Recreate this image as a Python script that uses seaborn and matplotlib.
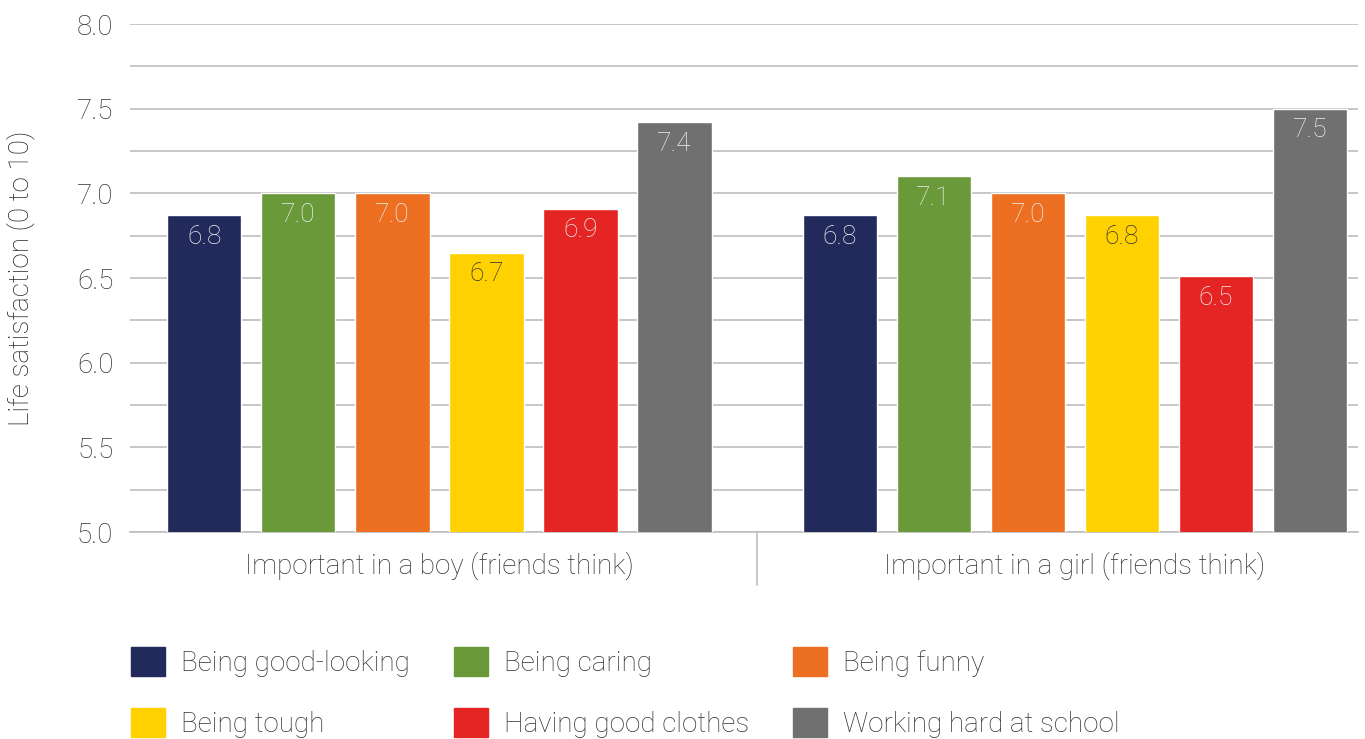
import matplotlib.pyplot as plt
import pandas as pd
import seaborn as sns
from matplotlib.ticker import MultipleLocator

groups = ["Important in a boy (friends think)", "Important in a girl (friends think)"]
traits = [
    "Being good-looking",
    "Being caring",
    "Being funny",
    "Being tough",
    "Having good clothes",
    "Working hard at school",
]
boy_values = [6.87, 7.00, 7.00, 6.65, 6.91, 7.42]
girl_values = [6.87, 7.10, 7.00, 6.87, 6.51, 7.50]
boy_labels = ["6.8", "7.0", "7.0", "6.7", "6.9", "7.4"]
girl_labels = ["6.8", "7.1", "7.0", "6.8", "6.5", "7.5"]
colors = ["#212a5a", "#6a993a", "#ec6f22", "#ffd100", "#e52424", "#707070"]

df = pd.DataFrame({
    "group": [groups[0]] * 6 + [groups[1]] * 6,
    "trait": traits * 2,
    "value": boy_values + girl_values,
})

sns.set_style("white")
plt.rcParams["font.family"] = ["Roboto", "DejaVu Sans"]
plt.rcParams["font.weight"] = "light"
plt.rcParams["axes.labelweight"] = "light"

fig = plt.figure(figsize=(13.65, 7.39), dpi=100)
ax = fig.add_axes([0.0952, 0.280, 0.8998, 0.6875])

sns.barplot(data=df, x="group", y="value", hue="trait", hue_order=traits,
            palette=colors, width=0.888, gap=0.21, saturation=1, ax=ax,
            legend=False, zorder=3)

ax.set_ylim(5.0, 8.0)
ax.set_xlim(-0.487, 1.446)
ax.yaxis.set_major_locator(MultipleLocator(0.5))
ax.yaxis.set_minor_locator(MultipleLocator(0.25))
ax.grid(axis="y", which="both", color="#bdbdbd", lw=1.2, zorder=0)
ax.set_yticklabels([f"{t:.1f}" for t in ax.get_yticks()])
ax.tick_params(axis="y", which="both", length=0, labelsize=20, labelcolor="#333333", pad=12)
ax.tick_params(axis="x", length=0, labelsize=20, labelcolor="#333333", pad=14)
for s in ["left", "right", "top"]:
    ax.spines[s].set_visible(False)
ax.spines["bottom"].set_color("#bdbdbd")
ax.spines["bottom"].set_linewidth(1.2)
ax.set_xlabel("")
ax.set_ylabel("Life satisfaction (0 to 10)", fontsize=20, color="#222222",
              fontweight="light", labelpad=30)

# separator between groups
ax.plot([0.5, 0.5], [0, -0.105], transform=ax.get_xaxis_transform(),
        color="#bdbdbd", lw=1.2, clip_on=False)

# value labels inside the bars
labels = boy_labels + girl_labels
bars = sorted(ax.patches, key=lambda p: p.get_x())
for bar, lab in zip(bars, labels):
    dark = bar.get_facecolor()[:3] == tuple(int(colors[3][i:i + 2], 16) / 255 for i in (1, 3, 5))
    ax.annotate(lab, (bar.get_x() + bar.get_width() / 2, bar.get_height()),
                xytext=(0, -7), textcoords="offset points", ha="center", va="top",
                fontsize=19, color="#333333" if dark else "#eeeeee", zorder=4)

handles = [plt.Rectangle((0, 0), 1, 1, color=c) for c in colors]
order = [0, 3, 1, 4, 2, 5]
fig.legend([handles[i] for i in order], [traits[i] for i in order],
           ncol=3, loc="upper left", bbox_to_anchor=(0.096, 0.124),
           frameon=False, fontsize=20, handlelength=1.22, handleheight=1.22,
           handletextpad=0.58, columnspacing=1.58, labelspacing=1.12,
           borderpad=0, borderaxespad=0, labelcolor="#333333")

fig.savefig("out.png", dpi=100)
